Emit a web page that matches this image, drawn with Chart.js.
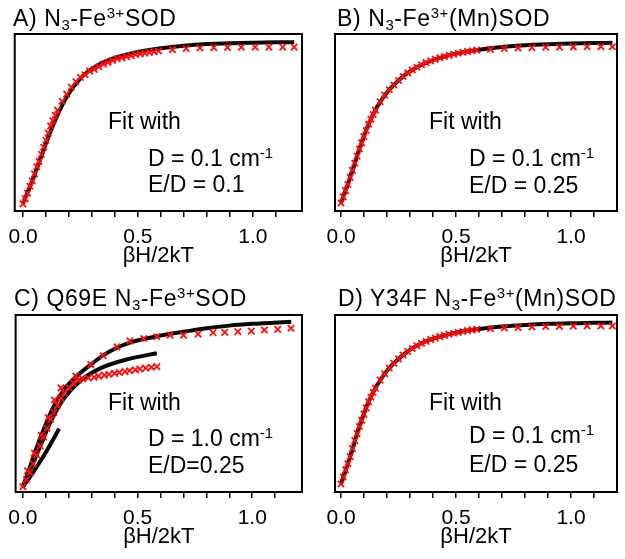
<!doctype html>
<html>
<head>
  <meta charset="utf-8" />
  <title>Magnetization fits</title>
  <script src="https://cdn.jsdelivr.net/npm/chart.js@4.4.1/dist/chart.umd.min.js"></script>
  <style>
    body { margin:0; background:#fff; width:625px; height:559px; position:relative; overflow:hidden;
           font-family:'Liberation Sans', Arial, sans-serif; color:#000; }
    canvas { position:absolute; }
    .lbl { position:absolute; font-size:23px; line-height:24px; white-space:nowrap; }
    .ttl { font-size:23px; letter-spacing:0.6px; }
    sub, sup { font-size:0.65em; line-height:0; }
    sub { vertical-align:-0.3em; }
    sup { vertical-align:0.55em; }
  </style>
</head>
<body>
 <canvas id="chartA" width="312" height="248" style="left:0;top:26px"></canvas>
 <canvas id="chartB" width="313" height="248" style="left:312px;top:26px"></canvas>
 <canvas id="chartC" width="312" height="248" style="left:0;top:307px"></canvas>
 <canvas id="chartD" width="313" height="248" style="left:312px;top:307px"></canvas>

 <div class="lbl ttl" style="left:13px;top:6px">A) N<sub>3</sub>-Fe<sup>3+</sup>SOD</div>
 <div class="lbl" style="left:108px;top:109px">Fit with</div>
 <div class="lbl" style="left:148px;top:146px">D = 0.1 cm<sup>-1</sup></div>
 <div class="lbl" style="left:148px;top:172px">E/D = 0.1</div>

 <div class="lbl ttl" style="left:337px;top:6px">B) N<sub>3</sub>-Fe<sup>3+</sup>(Mn)SOD</div>
 <div class="lbl" style="left:429px;top:109px">Fit with</div>
 <div class="lbl" style="left:469px;top:146px">D = 0.1 cm<sup>-1</sup></div>
 <div class="lbl" style="left:469px;top:173px">E/D = 0.25</div>

 <div class="lbl ttl" style="left:14px;top:286px">C) Q69E N<sub>3</sub>-Fe<sup>3+</sup>SOD</div>
 <div class="lbl" style="left:108px;top:390px">Fit with</div>
 <div class="lbl" style="left:148px;top:426px">D = 1.0 cm<sup>-1</sup></div>
 <div class="lbl" style="left:148px;top:453px">E/D=0.25</div>

 <div class="lbl ttl" style="left:338px;top:286px">D) Y34F N<sub>3</sub>-Fe<sup>3+</sup>(Mn)SOD</div>
 <div class="lbl" style="left:429px;top:390px">Fit with</div>
 <div class="lbl" style="left:469px;top:423px">D = 0.1 cm<sup>-1</sup></div>
 <div class="lbl" style="left:469px;top:452px">E/D = 0.25</div>

<script>
// tick labels of the x axis (minor ticks every 0.1)
const X_TICK_LABELS = ['0.0', '0.5', '1.0'];
const X_TITLE = 'βH/2kT';

// --- panel A ---
const fitA_x = [0, 0.04, 0.08, 0.12, 0.16, 0.20, 0.24, 0.28, 0.32, 0.36, 0.40, 0.45, 0.50, 0.55, 0.60, 0.70, 0.80, 0.90, 1.0, 1.1, 1.18];
const fitA_y = [0.043, 0.17, 0.31, 0.45, 0.57, 0.665, 0.735, 0.785, 0.82, 0.846, 0.865, 0.883, 0.898, 0.91, 0.92, 0.934, 0.943, 0.948, 0.951, 0.953, 0.954];
const dataA_x = [0, 0.01, 0.02, 0.03, 0.04, 0.05, 0.06, 0.07, 0.08, 0.09, 0.10, 0.11, 0.12, 0.13, 0.14, 0.15,
  0.17, 0.19, 0.21, 0.23, 0.25, 0.27, 0.29, 0.31, 0.33, 0.35, 0.37, 0.39, 0.41, 0.43, 0.45, 0.47, 0.49,
  0.51, 0.53, 0.55, 0.57, 0.59, 0.65, 0.71, 0.77, 0.83, 0.89, 0.95, 1.01, 1.07, 1.13, 1.18];
const dataA_y = [0.04, 0.07, 0.10, 0.14, 0.17, 0.21, 0.25, 0.28, 0.32, 0.36, 0.40, 0.44, 0.48, 0.51, 0.54, 0.57,
  0.62, 0.66, 0.70, 0.73, 0.755, 0.77, 0.79, 0.80, 0.815, 0.83, 0.84, 0.85, 0.86, 0.865, 0.872, 0.878, 0.884,
  0.888, 0.892, 0.896, 0.90, 0.904, 0.912, 0.918, 0.921, 0.923, 0.924, 0.925, 0.926, 0.926, 0.926, 0.926];

// --- panel B ---
const fitB_x = [0, 0.04, 0.08, 0.12, 0.16, 0.20, 0.24, 0.28, 0.32, 0.36, 0.40, 0.45, 0.50, 0.55, 0.60, 0.70, 0.80, 0.90, 1.0, 1.1, 1.18];
const fitB_y = [0.045, 0.19, 0.35, 0.49, 0.595, 0.67, 0.725, 0.77, 0.805, 0.832, 0.853, 0.873, 0.889, 0.901, 0.911, 0.926, 0.936, 0.942, 0.946, 0.949, 0.95];
const dataB_x = [0, 0.01, 0.02, 0.03, 0.04, 0.05, 0.06, 0.07, 0.08, 0.09, 0.10, 0.11, 0.12, 0.13, 0.14, 0.15,
  0.17, 0.19, 0.21, 0.23, 0.25, 0.27, 0.29, 0.31, 0.33, 0.35, 0.37, 0.39, 0.41, 0.43, 0.45, 0.47, 0.49,
  0.51, 0.53, 0.55, 0.57, 0.59, 0.65, 0.71, 0.77, 0.83, 0.89, 0.95, 1.01, 1.07, 1.13, 1.18];
const dataB_y = [0.045, 0.08, 0.115, 0.15, 0.19, 0.23, 0.27, 0.31, 0.35, 0.385, 0.42, 0.455, 0.49, 0.518, 0.545, 0.57,
  0.617, 0.655, 0.685, 0.712, 0.737, 0.76, 0.78, 0.797, 0.812, 0.826, 0.838, 0.848, 0.857, 0.866, 0.873, 0.879, 0.886,
  0.891, 0.896, 0.901, 0.905, 0.909, 0.913, 0.918, 0.921, 0.923, 0.925, 0.926, 0.927, 0.928, 0.928, 0.928];

// --- panel C (three fits, two data sets) ---
const fitC1_x = [0, 0.03, 0.065, 0.094, 0.137, 0.18, 0.23, 0.296, 0.35, 0.41, 0.47, 0.527, 0.60, 0.70, 0.80, 0.90, 1.0, 1.17];
const fitC1_y = [0.03, 0.14, 0.27, 0.366, 0.49, 0.58, 0.65, 0.72, 0.772, 0.815, 0.845, 0.864, 0.884, 0.905, 0.925, 0.94, 0.95, 0.962];
const fitC2_x = [0, 0.04, 0.079, 0.122, 0.18, 0.252, 0.339, 0.455, 0.584];
const fitC2_y = [0.03, 0.15, 0.27, 0.40, 0.53, 0.63, 0.70, 0.75, 0.784];
const fitC3_x = [0, 0.036, 0.094, 0.158];
const fitC3_y = [0.03, 0.095, 0.212, 0.357];
const dataC1_x = [0.02, 0.05, 0.08, 0.11, 0.137, 0.166, 0.23, 0.296, 0.35, 0.41, 0.466, 0.527, 0.584, 0.642,
  0.70, 0.764, 0.829, 0.88, 0.937, 0.996, 1.053, 1.111, 1.169];
const dataC1_y = [0.12, 0.22, 0.32, 0.42, 0.52, 0.588, 0.655, 0.72, 0.77, 0.82, 0.854, 0.867, 0.877, 0.886,
  0.886, 0.892, 0.90, 0.902, 0.906, 0.909, 0.915, 0.919, 0.925];
const dataC2_x = [0, 0.015, 0.03, 0.045, 0.06, 0.075, 0.09, 0.105, 0.12, 0.135, 0.15, 0.165, 0.18, 0.20, 0.22,
  0.24, 0.26, 0.285, 0.31, 0.33, 0.355, 0.375, 0.40, 0.42, 0.445, 0.465, 0.49, 0.51, 0.535, 0.56, 0.584];
const dataC2_y = [0.03, 0.07, 0.11, 0.16, 0.21, 0.26, 0.31, 0.36, 0.41, 0.45, 0.49, 0.53, 0.56, 0.59, 0.615,
  0.63, 0.64, 0.645, 0.648, 0.655, 0.66, 0.665, 0.67, 0.675, 0.68, 0.685, 0.69, 0.695, 0.70, 0.705, 0.709];

// --- panel D ---
const fitD_x = [0, 0.04, 0.08, 0.12, 0.16, 0.20, 0.24, 0.28, 0.32, 0.36, 0.40, 0.45, 0.50, 0.55, 0.60, 0.70, 0.80, 0.90, 1.0, 1.1, 1.18];
const fitD_y = [0.045, 0.20, 0.37, 0.51, 0.61, 0.685, 0.74, 0.785, 0.82, 0.846, 0.866, 0.885, 0.90, 0.912, 0.921, 0.935, 0.944, 0.95, 0.953, 0.956, 0.957];
const dataD_x = [0, 0.01, 0.02, 0.03, 0.04, 0.05, 0.06, 0.07, 0.08, 0.09, 0.10, 0.11, 0.12, 0.13, 0.14, 0.15,
  0.17, 0.19, 0.21, 0.23, 0.25, 0.27, 0.29, 0.31, 0.33, 0.35, 0.37, 0.39, 0.41, 0.43, 0.45, 0.47, 0.49,
  0.51, 0.53, 0.55, 0.57, 0.59, 0.65, 0.71, 0.77, 0.83, 0.89, 0.95, 1.01, 1.07, 1.13, 1.18];
const dataD_y = [0.045, 0.085, 0.125, 0.16, 0.20, 0.245, 0.29, 0.33, 0.37, 0.405, 0.44, 0.475, 0.51, 0.537, 0.563, 0.587,
  0.632, 0.668, 0.70, 0.727, 0.752, 0.774, 0.794, 0.811, 0.826, 0.84, 0.851, 0.861, 0.87, 0.878, 0.885, 0.891, 0.897,
  0.902, 0.907, 0.912, 0.916, 0.919, 0.922, 0.927, 0.93, 0.933, 0.935, 0.936, 0.937, 0.938, 0.938, 0.938];

const FONT = "'Liberation Sans', Arial, sans-serif";
const pts = (xs, ys) => xs.map((x, i) => ({x: x, y: ys[i]}));

function fitSet(xs, ys) {
  return { data: pts(xs, ys), showLine: true, borderColor: '#0a0a0a', borderWidth: 4,
           pointRadius: 0, cubicInterpolationMode: 'monotone', order: 2 };
}
function dataSet(xs, ys) {
  return { data: pts(xs, ys), showLine: false, pointStyle: 'crossRot', pointRadius: 4.5,
           borderColor: '#ff0d0d', borderWidth: 1.8, order: 1 };
}

// box around the plot area
const framePlugin = {
  id: 'frame',
  afterDraw(chart) {
    const {ctx, chartArea: a} = chart;
    ctx.save();
    ctx.strokeStyle = '#000';
    ctx.lineWidth = 2;
    ctx.strokeRect(a.left, a.top, a.right - a.left, a.bottom - a.top);
    ctx.restore();
  }
};

function makePanel(id, xmin, xmax, padL, padR, datasets) {
  return new Chart(id, {
    type: 'scatter',
    data: { datasets: datasets },
    plugins: [framePlugin],
    options: {
      responsive: false,
      animation: false,
      layout: { padding: { left: padL, right: padR, top: 8, bottom: 0 } },
      plugins: { legend: { display: false }, tooltip: { enabled: false } },
      scales: {
        x: {
          type: 'linear', min: xmin, max: xmax, position: 'bottom',
          afterFit: s => { s.height = 63; },
          border: { display: false },
          grid: { drawOnChartArea: false, drawTicks: true, tickLength: 6, color: '#000', lineWidth: 1.5 },
          ticks: {
            stepSize: 0.1, includeBounds: false, autoSkip: false, maxRotation: 0, padding: 8,
            color: '#000', font: { family: FONT, size: 21 },
            callback: v => {
              if (v > 1.15) return null;
              const l = X_TICK_LABELS.find(t => Math.abs(parseFloat(t) - v) < 1e-6);
              return l || '';
            }
          },
          title: { display: true, text: X_TITLE, color: '#000', font: { family: FONT, size: 22 },
                   padding: { top: 0, bottom: 5 } }
        },
        y: { display: false, min: 0, max: 1 }
      }
    }
  });
}

makePanel('chartA', -0.036, 1.214, 14, 10, [fitSet(fitA_x, fitA_y), dataSet(dataA_x, dataA_y)]);
makePanel('chartB', -0.026, 1.2, 23, 8, [fitSet(fitB_x, fitB_y), dataSet(dataB_x, dataB_y)]);
makePanel('chartC', -0.032, 1.217, 14, 10, [
  fitSet(fitC1_x, fitC1_y), fitSet(fitC2_x, fitC2_y), fitSet(fitC3_x, fitC3_y),
  dataSet(dataC1_x, dataC1_y), dataSet(dataC2_x, dataC2_y)]);
makePanel('chartD', -0.026, 1.2, 23, 8, [fitSet(fitD_x, fitD_y), dataSet(dataD_x, dataD_y)]);
</script>
</body>
</html>
